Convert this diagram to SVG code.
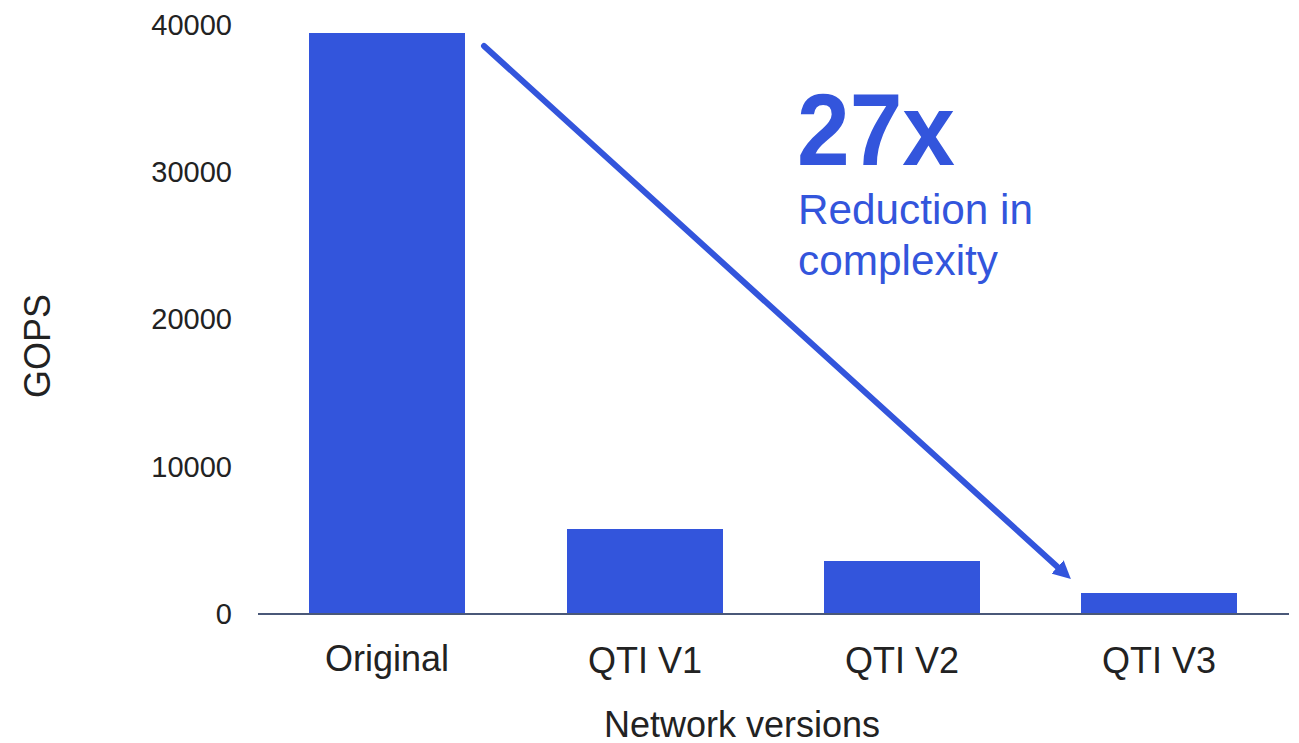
<svg xmlns="http://www.w3.org/2000/svg" width="1299" height="743" viewBox="0 0 1299 743">
<style>
.bar{fill:#3355dc}
.tick{font-family:"Liberation Sans",Arial,sans-serif;font-size:29px;fill:#222;text-anchor:end}
.cat{font-family:"Liberation Sans",Arial,sans-serif;font-size:36px;fill:#222;text-anchor:middle}
.note{font-family:"Liberation Sans",Arial,sans-serif;fill:#3355dc}
</style>
<defs>
<marker id="ah" markerUnits="userSpaceOnUse" markerWidth="18" markerHeight="18" refX="6" refY="9" orient="auto">
<path d="M0,0 L18,9 L0,18 z" fill="#3355dc"/>
</marker>
</defs>
<rect width="1299" height="743" fill="#fff"/>
<g id="y-axis">
<text class="tick" x="232" y="35">40000</text>
<text class="tick" x="232" y="182">30000</text>
<text class="tick" x="232" y="329">20000</text>
<text class="tick" x="232" y="477">10000</text>
<text class="tick" x="232" y="624">0</text>
<text class="cat" transform="translate(50,346) rotate(-90)">GOPS</text>
</g>
<g id="bar-original"><rect class="bar" x="309" y="33" width="156" height="581"/><text class="cat" x="387" y="671">Original</text></g>
<g id="bar-v1"><rect class="bar" x="567" y="529" width="156" height="85"/><text class="cat" x="645" y="673">QTI V1</text></g>
<g id="bar-v2"><rect class="bar" x="824" y="561" width="156" height="53"/><text class="cat" x="902" y="673">QTI V2</text></g>
<g id="bar-v3"><rect class="bar" x="1081" y="593" width="156" height="21"/><text class="cat" x="1159" y="673">QTI V3</text></g>
<g id="x-axis">
<line x1="258" y1="614" x2="1289" y2="614" stroke="#4a5878" stroke-width="2"/>
<text class="cat" x="742" y="737">Network versions</text>
</g>
<g id="annotation">
<text class="note" x="797" y="165" font-size="102" font-weight="bold" textLength="158" lengthAdjust="spacingAndGlyphs">27x</text>
<text class="note" x="798" y="224" font-size="42" textLength="235" lengthAdjust="spacingAndGlyphs">Reduction in</text>
<text class="note" x="798" y="275" font-size="42" textLength="200" lengthAdjust="spacingAndGlyphs">complexity</text>
</g>
<g id="connectors">
<line x1="484" y1="46" x2="1062" y2="571" stroke="#3355dc" stroke-width="6" stroke-linecap="round" marker-end="url(#ah)"/>
</g>
</svg>
